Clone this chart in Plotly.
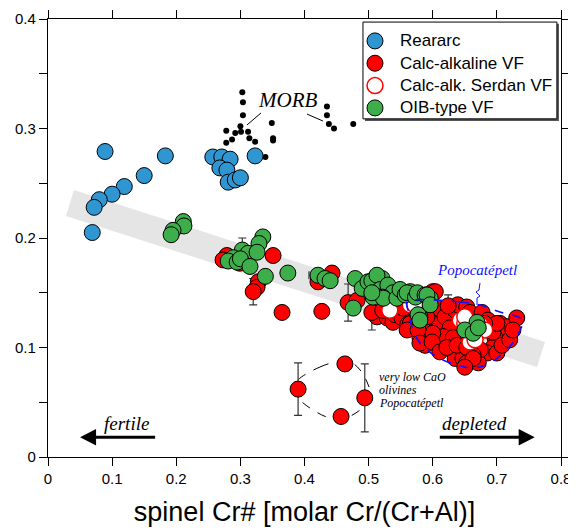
import plotly.graph_objects as go

# ---------------- data ----------------
morb_x = [0.303, 0.304, 0.304, 0.300, 0.278, 0.292, 0.301, 0.312, 0.314, 0.323, 0.287,
          0.278, 0.349, 0.351, 0.351, 0.339, 0.435, 0.435, 0.438, 0.446, 0.476]
morb_y = [0.333, 0.324, 0.312, 0.302, 0.298, 0.296, 0.297, 0.297, 0.291, 0.288, 0.290,
          0.287, 0.305, 0.291, 0.289, 0.274, 0.320, 0.312, 0.304, 0.300, 0.304]

rearc_x = [0.089, 0.183, 0.150, 0.119, 0.100, 0.080, 0.072, 0.069, 0.257, 0.271, 0.284,
           0.268, 0.279, 0.281, 0.292, 0.300, 0.323]
rearc_y = [0.279, 0.275, 0.257, 0.247, 0.240, 0.235, 0.228, 0.205, 0.274, 0.274, 0.272,
           0.264, 0.262, 0.251, 0.253, 0.255, 0.275]

calc_x = [0.279, 0.273, 0.299, 0.351, 0.328, 0.326, 0.320, 0.365, 0.427, 0.443, 0.421, 0.468,
          0.482, 0.513, 0.529, 0.538, 0.505,
          0.522, 0.541, 0.552, 0.561, 0.585, 0.596, 0.604, 0.607, 0.600,
          0.554, 0.565, 0.560, 0.580, 0.588, 0.607, 0.611, 0.619, 0.627, 0.635, 0.639, 0.616,
          0.632, 0.627, 0.643, 0.635, 0.647, 0.653, 0.653, 0.658, 0.677, 0.686, 0.686, 0.705,
          0.716, 0.710, 0.697, 0.694, 0.685, 0.671, 0.674, 0.663, 0.731, 0.591, 0.600, 0.575,
          0.700, 0.708, 0.720, 0.725, 0.694, 0.700, 0.681, 0.577, 0.580, 0.599, 0.611, 0.622,
          0.638, 0.653, 0.663, 0.650, 0.604, 0.569, 0.624,
          0.390, 0.463, 0.494, 0.457]
calc_y = [0.184, 0.180, 0.177, 0.184, 0.160, 0.155, 0.151, 0.132, 0.133, 0.168, 0.160, 0.141,
          0.143, 0.128, 0.127, 0.123, 0.132,
          0.134, 0.130, 0.127, 0.121, 0.118, 0.119, 0.127, 0.136, 0.151,
          0.136, 0.122, 0.116, 0.109, 0.102, 0.104, 0.122, 0.128, 0.118, 0.134, 0.139, 0.110,
          0.109, 0.100, 0.100, 0.090, 0.090, 0.086, 0.137, 0.132, 0.132, 0.125, 0.116, 0.122,
          0.119, 0.111, 0.109, 0.100, 0.095, 0.086, 0.098, 0.093, 0.127, 0.128, 0.113, 0.132,
          0.095, 0.102, 0.107, 0.116, 0.114, 0.122, 0.122, 0.116, 0.104, 0.105, 0.096, 0.100,
          0.102, 0.100, 0.090, 0.082, 0.151, 0.148, 0.138,
          0.062, 0.085, 0.054, 0.037]

serdan_x = [0.643, 0.650, 0.674, 0.681, 0.658, 0.666, 0.650, 0.565, 0.572, 0.533]
serdan_y = [0.125, 0.122, 0.121, 0.116, 0.105, 0.107, 0.128, 0.139, 0.139, 0.134]

oib_x = [0.211, 0.212, 0.195, 0.192,
         0.335, 0.329, 0.303, 0.312, 0.326, 0.289, 0.281, 0.295, 0.300, 0.315, 0.339,
         0.374, 0.421, 0.432, 0.440,
         0.479, 0.490, 0.499, 0.505, 0.521, 0.513, 0.518, 0.529, 0.530, 0.538, 0.522, 0.507,
         0.523, 0.544, 0.505, 0.549, 0.557, 0.565, 0.560, 0.573, 0.576, 0.588, 0.596, 0.591,
         0.580, 0.577, 0.476, 0.596, 0.580,
         0.669, 0.650, 0.663, 0.671]
oib_y = [0.215, 0.211, 0.207, 0.203,
         0.201, 0.195, 0.189, 0.186, 0.187, 0.182, 0.179, 0.178, 0.181, 0.174, 0.165,
         0.168, 0.166, 0.163, 0.161,
         0.163, 0.154, 0.160, 0.161, 0.163, 0.166, 0.153, 0.151, 0.157, 0.150, 0.146, 0.146,
         0.145, 0.145, 0.150, 0.153, 0.148, 0.151, 0.150, 0.146, 0.150, 0.148, 0.145, 0.148,
         0.128, 0.130, 0.136, 0.139, 0.125,
         0.123, 0.116, 0.113, 0.118]

# error bars (vertical and horizontal)
erry_x = [0.303, 0.320, 0.468, 0.505, 0.624, 0.390, 0.494]
erry_y = [0.189, 0.151, 0.141, 0.132, 0.138, 0.062, 0.054]
erry_e = [0.011, 0.012, 0.017, 0.016, 0.010, 0.024, 0.031]
errx_x = [0.421]
errx_y = [0.166]
errx_e = [0.014]

# trend band corners
band_x = [0.0405, 0.775, 0.7626, 0.0281]
band_y = [0.2438, 0.105, 0.0822, 0.2201]

# Popocatepetl outline
popo_x = [0.560, 0.6425, 0.6737, 0.7049, 0.7361, 0.7407, 0.7361, 0.7283, 0.7096, 0.6893,
          0.6628, 0.6378, 0.6066, 0.5801, 0.5676, 0.5614, 0.560]
popo_y = [0.1416, 0.1416, 0.1388, 0.1324, 0.1269, 0.1224, 0.1160, 0.1068, 0.0950, 0.0858,
          0.0813, 0.0840, 0.0913, 0.1041, 0.1187, 0.1342, 0.1416]
popo_lead_x = [0.6737, 0.6721, 0.6674, 0.6737, 0.6690, 0.6690]
popo_lead_y = [0.1589, 0.1525, 0.1507, 0.1470, 0.1452, 0.1388]

# low-CaO outline
lowca_x = [0.3899, 0.4242, 0.4507, 0.4741, 0.4866, 0.4975, 0.5021, 0.4975, 0.4866, 0.4632,
           0.4398, 0.4133, 0.3899, 0.3836, 0.3899]
lowca_y = [0.0703, 0.0822, 0.0868, 0.0858, 0.0795, 0.0685, 0.0594, 0.0502, 0.0429, 0.0356,
           0.0356, 0.0429, 0.0539, 0.0621, 0.0703]

# MORB leader lines
morb_lead1_x = [0.3322, 0.3103]
morb_lead1_y = [0.3142, 0.3032]
morb_lead2_x = [0.4039, 0.4288]
morb_lead2_y = [0.3132, 0.3068]

lowca_lines = ['very low CaO', 'olivines', 'Popocatépetl']
lowca_line_y = [0.0731, 0.0612, 0.0493]

legend_names = ['Reararc', 'Calc-alkaline VF', 'Calc-alk. Serdan VF', 'OIB-type VF']

BLUE = '#2F96D2'
RED = '#FF0000'
GREEN = '#3DAE4A'
SERIF = 'Liberation Serif'
SANS = 'Liberation Sans'

fig = go.Figure()

band_path = 'M ' + ' L '.join(f'{x},{y}' for x, y in zip(band_x, band_y)) + ' Z'
fig.add_shape(type='path', path=band_path, xref='x', yref='y', fillcolor='#E5E5E5',
              line=dict(width=0), layer='below')

nolegend = dict(showlegend=False, hoverinfo='skip')
fig.add_trace(go.Scatter(x=morb_lead1_x, y=morb_lead1_y, mode='lines',
                         line=dict(color='black', width=1), **nolegend))
fig.add_trace(go.Scatter(x=morb_lead2_x, y=morb_lead2_y, mode='lines',
                         line=dict(color='black', width=1), **nolegend))
fig.add_trace(go.Scatter(x=lowca_x, y=lowca_y, mode='lines',
                         line=dict(color='black', width=1, dash='dash', shape='spline'), **nolegend))

fig.add_trace(go.Scatter(x=erry_x, y=erry_y, mode='markers',
                         marker=dict(size=1, color='rgba(0,0,0,0)'),
                         error_y=dict(type='data', array=erry_e, color='#333333', thickness=1.2, width=4),
                         **nolegend))
fig.add_trace(go.Scatter(x=errx_x, y=errx_y, mode='markers',
                         marker=dict(size=1, color='rgba(0,0,0,0)'),
                         error_x=dict(type='data', array=errx_e, color='#333333', thickness=1.2, width=4),
                         **nolegend))

fig.add_trace(go.Scatter(x=morb_x, y=morb_y, mode='markers', name='MORB',
                         marker=dict(size=6, color='black'), showlegend=False))

mk_line = dict(color='black', width=1)
series = [
    (rearc_x, rearc_y, dict(color=BLUE, line=mk_line)),
    (calc_x, calc_y, dict(color=RED, line=mk_line)),
    (serdan_x, serdan_y, dict(color='white', line=dict(color=RED, width=1.5))),
    (oib_x, oib_y, dict(color=GREEN, line=mk_line)),
]
for name, (sx, sy, mk) in zip(legend_names, series):
    fig.add_trace(go.Scatter(x=sx, y=sy, mode='markers', name=name, showlegend=False,
                             marker=dict(size=16, **mk)))

fig.add_trace(go.Scatter(x=popo_x, y=popo_y, mode='lines',
                         line=dict(color='#1010FF', width=1.6, dash='dash', shape='spline'), **nolegend))
fig.add_trace(go.Scatter(x=popo_lead_x, y=popo_lead_y, mode='lines',
                         line=dict(color='#1010FF', width=1), **nolegend))

# arrows
fig.add_shape(type='line', x0=0.167, y0=0.018, x1=0.070, y1=0.018, xref='x', yref='y',
              line=dict(color='black', width=3))
fig.add_shape(type='path', path='M 0.050,0.018 L 0.075,0.0255 L 0.075,0.0105 Z', xref='x', yref='y',
              fillcolor='black', line=dict(width=0))
fig.add_shape(type='line', x0=0.611, y0=0.018, x1=0.740, y1=0.018, xref='x', yref='y',
              line=dict(color='black', width=3))
fig.add_shape(type='path', path='M 0.759,0.018 L 0.734,0.0255 L 0.734,0.0105 Z', xref='x', yref='y',
              fillcolor='black', line=dict(width=0))

# hand-drawn legend box (with drop shadow) to match the original layout
fig.add_shape(type='rect', xref='paper', yref='paper', x0=0.618, x1=0.996, y0=0.767, y1=0.989,
              fillcolor='#555555', line=dict(width=0), layer='above')
fig.add_shape(type='rect', xref='paper', yref='paper', x0=0.614, x1=0.992, y0=0.772, y1=0.993,
              fillcolor='white', line=dict(color='black', width=1), layer='above')
legend_row_y = [0.950, 0.899, 0.848, 0.797]
legend_fill = [BLUE, RED, 'white', GREEN]
legend_edge = ['black', 'black', RED, 'black']
for name, ry, fc, ec in zip(legend_names, legend_row_y, legend_fill, legend_edge):
    fig.add_shape(type='circle', xref='paper', yref='paper', xsizemode='pixel', ysizemode='pixel',
                  xanchor=0.6374, yanchor=ry, x0=-8, x1=8, y0=-8, y1=8,
                  fillcolor=fc, line=dict(color=ec, width=1.5 if ec == RED else 1), layer='above')
    fig.add_annotation(x=0.6823, y=ry, xref='paper', yref='paper', text=name, showarrow=False,
                       xanchor='left', yanchor='middle', font=dict(family=SANS, size=17, color='black'))

ann = [
    dict(x=0.374, y=0.326, text='<i>MORB</i>', font=dict(family=SERIF, size=21, color='black')),
    dict(x=0.669, y=0.171, text='<i>Popocatépetl</i>', font=dict(family=SERIF, size=15, color='#1010FF')),
    dict(x=0.122, y=0.031, text='<i>fertile</i>', font=dict(family=SERIF, size=19, color='black')),
    dict(x=0.665, y=0.031, text='<i>depleted</i>', font=dict(family=SERIF, size=19, color='black')),
]
for t, yy in zip(lowca_lines, lowca_line_y):
    ann.append(dict(x=0.513, y=yy, text=f'<i>{t}</i>', xanchor='left',
                    font=dict(family=SERIF, size=12, color='black')))
for a in ann:
    a.update(xref='x', yref='y', showarrow=False)
    fig.add_annotation(**a)

axis_common = dict(showline=True, linecolor='black', linewidth=1.2, mirror='ticks', ticks='outside',
                   ticklen=8, tickwidth=1.2, tickcolor='black', showgrid=False, zeroline=False,
                   automargin=False,
                   tickfont=dict(family=SANS, size=15, color='black'))
fig.update_xaxes(range=[0, 0.8], dtick=0.1, tick0=0,
                 title=dict(text='spinel Cr# [molar Cr/(Cr+Al)]', font=dict(family=SANS, size=27, color='black'),
                            standoff=16),
                 **axis_common)
fig.update_yaxes(range=[0, 0.4], dtick=0.1, tick0=0,
                 minor=dict(dtick=0.05, ticks='outside', ticklen=8, tickwidth=1.2, tickcolor='black'),
                 **axis_common)

# page body has an 8px margin; size the figure so the plot area lands where the reference has it
fig.update_layout(
    width=568, height=522,
    margin=dict(l=40, r=15, t=11, b=73, autoexpand=False),
    paper_bgcolor='white', plot_bgcolor='white',
    showlegend=False,
)

fig.write_html('out.html')
